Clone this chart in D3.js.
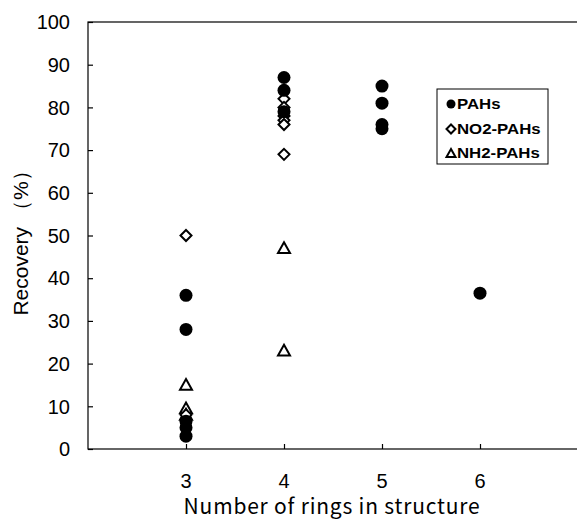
<!DOCTYPE html>
<html>
<head>
<meta charset="utf-8">
<script src="https://cdn.jsdelivr.net/npm/d3@7"></script>
<style>
  body { margin: 0; background: #fff; }
  svg { display: block; }
</style>
</head>
<body>
<script>
const WIDTH = 577;
const HEIGHT = 524;

// data (x = number of rings, y = recovery %)
const pahs = [
  [3, 36], [3, 28], [3, 6.5], [3, 5], [3, 3],
  [4, 87], [4, 84], [4, 79],
  [5, 85], [5, 81], [5, 76], [5, 75],
  [6, 36.5]
];
const no2Pahs = [
  [3, 50], [3, 8],
  [4, 82], [4, 80], [4, 78], [4, 77], [4, 76], [4, 69]
];
const nh2Pahs = [
  [3, 15], [3, 9.5], [3, 8],
  [4, 47], [4, 23]
];
const xTicks = [3, 4, 5, 6];
const yTicks = [0, 10, 20, 30, 40, 50, 60, 70, 80, 90, 100];
const legendLabels = ['PAHs', 'NO2-PAHs', 'NH2-PAHs'];

const FONT = '"Liberation Sans", Arial, sans-serif';
const margin = { left: 88, top: 22, bottom: 75 };

const svg = d3.select('body').append('svg')
  .attr('width', WIDTH)
  .attr('height', HEIGHT);

// right end of the frame sits just outside the picture
const x = d3.scaleLinear().domain([2, 7]).range([margin.left, margin.left + 490]);
const y = d3.scaleLinear().domain([0, 100]).range([HEIGHT - margin.bottom, margin.top]);

// frame
svg.append('rect')
  .attr('x', x(2)).attr('y', y(100))
  .attr('width', x(7) - x(2) + 4).attr('height', y(0) - y(100))
  .attr('fill', 'none').attr('stroke', '#000').attr('stroke-width', 1.2);

// y axis, ticks point inside
const yAxis = svg.append('g')
  .attr('transform', `translate(${x(2)},0)`)
  .call(d3.axisRight(y).tickValues(yTicks).tickSize(5).tickFormat(''));
yAxis.select('.domain').remove();
yAxis.selectAll('line').attr('stroke-width', 1.2);
yTicks.forEach((t) => {
  svg.append('text')
    .attr('x', 70).attr('y', y(t)).attr('dy', '0.36em')
    .attr('text-anchor', 'end')
    .attr('font-family', FONT).attr('font-size', 20)
    .text(t);
});

// x axis, ticks point up
const xAxis = svg.append('g')
  .attr('transform', `translate(0,${y(0)})`)
  .call(d3.axisTop(x).tickValues(xTicks).tickSize(5).tickFormat(''));
xAxis.select('.domain').remove();
xAxis.selectAll('line').attr('stroke-width', 1.2);
xTicks.forEach((t) => {
  svg.append('text')
    .attr('x', x(t)).attr('y', 488)
    .attr('text-anchor', 'middle')
    .attr('font-family', FONT).attr('font-size', 20)
    .text(t);
});

svg.append('text')
  .attr('x', 332).attr('y', 514)
  .attr('text-anchor', 'middle')
  .attr('font-family', '"Noto Sans CJK JP", sans-serif')
  .attr('font-size', 21)
  .attr('letter-spacing', 0.8)
  .text('Number of rings in structure');

svg.append('text')
  .attr('transform', 'translate(28,238) rotate(-90)')
  .attr('text-anchor', 'middle')
  .attr('font-family', FONT)
  .attr('font-size', 21)
  .text('Recovery （%）');

// marker helpers
function circle(g, cx, cy, r) {
  g.append('circle').attr('cx', cx).attr('cy', cy).attr('r', r).attr('fill', '#000');
}
function diamond(g, cx, cy, s) {
  g.append('path')
    .attr('d', `M${cx},${cy - s}L${cx + s},${cy}L${cx},${cy + s}L${cx - s},${cy}Z`)
    .attr('fill', '#fff').attr('stroke', '#000').attr('stroke-width', 2);
}
function triangle(g, cx, cy, s) {
  g.append('path')
    .attr('d', `M${cx},${cy - s}L${cx + s},${cy + s * 0.8}L${cx - s},${cy + s * 0.8}Z`)
    .attr('fill', '#fff').attr('stroke', '#000').attr('stroke-width', 2);
}

const marks = svg.append('g');
nh2Pahs.forEach(([a, b]) => triangle(marks, x(a), y(b), 6));
no2Pahs.forEach(([a, b]) => diamond(marks, x(a), y(b), 5.5));
pahs.forEach(([a, b]) => circle(marks, x(a), y(b), 6.5));

// legend
const lg = svg.append('g');
lg.append('rect')
  .attr('x', 437).attr('y', 89).attr('width', 111).attr('height', 75)
  .attr('fill', '#fff').attr('stroke', '#000').attr('stroke-width', 1);
const legendY = [104, 129, 153];
const legendDraw = [
  (cy) => circle(lg, 451, cy, 4.5),
  (cy) => diamond(lg, 451, cy, 4.5),
  (cy) => triangle(lg, 451, cy + 0.5, 4.5)
];
legendLabels.forEach((lab, i) => {
  legendDraw[i](legendY[i]);
  lg.append('text')
    .attr('transform', `translate(457,${legendY[i]}) scale(1.2,1)`)
    .attr('dy', '0.36em')
    .attr('font-family', FONT).attr('font-size', 14).attr('font-weight', 700)
    .text(lab);
});
</script>
</body>
</html>
